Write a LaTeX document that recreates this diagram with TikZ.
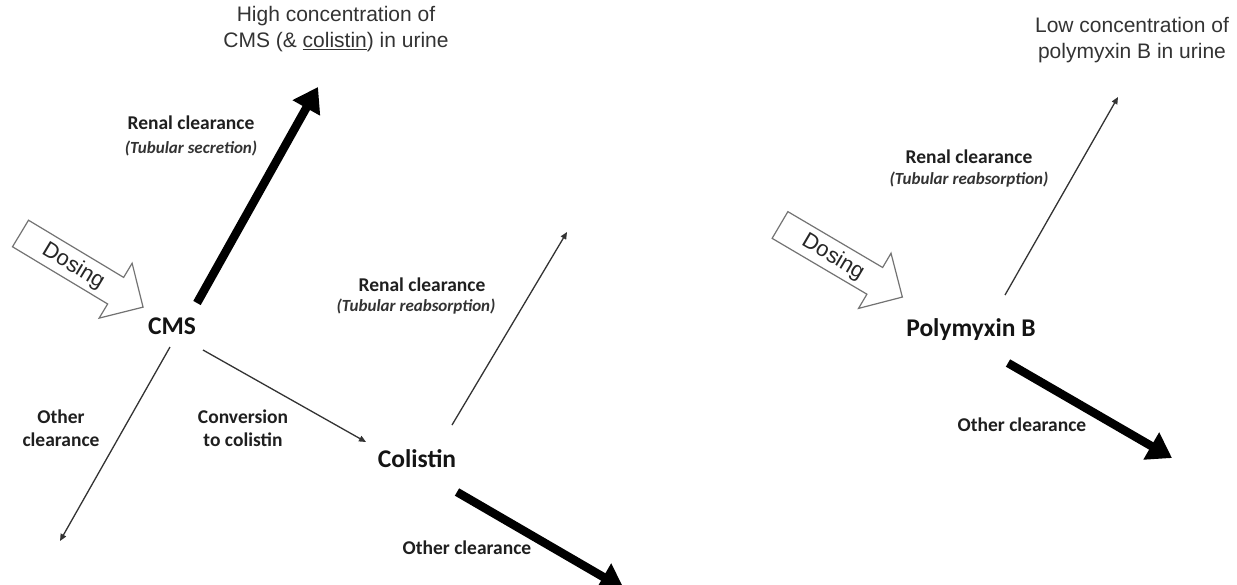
\documentclass[tikz,border=0pt]{standalone}
\usepackage{fontspec}
\setmainfont{Carlito}
\newfontfamily\arialf{Liberation Sans}
\usetikzlibrary{arrows.meta}
\tikzset{
  lbl/.style={font=\fontsize{19.5}{23}\selectfont\bfseries, text=black!88, inner sep=0pt, align=center},
  sublbl/.style={font=\fontsize{17}{20}\selectfont\bfseries\itshape, text=black!80, inner sep=0pt},
  drug/.style={font=\fontsize{25.5}{30}\selectfont\bfseries, text=black!92, inner sep=0pt},
  toptxt/.style={font=\arialf\fontsize{21}{26}\selectfont, text=black!80, inner sep=0pt, align=center},
  thinarr/.style={draw=black!80, line width=1.3pt, -{Triangle[length=7pt,width=6pt]}},
  thickarr/.style={draw=black, line width=8.5pt, -{Triangle[length=24pt,width=30pt]}},
  dosebox/.style={draw=black!55, line width=1.2pt, fill=white},
  dosetxt/.style={font=\arialf\fontsize{22}{26}\selectfont, text=black!85, inner sep=0pt},
}
\begin{document}
\begin{tikzpicture}[x=1pt,y=-1pt]
\clip (0,0) rectangle (1237,584);
\fill[white] (0,0) rectangle (1237,584);

% ---------- top texts
\node[toptxt] (high) at (336,29) {High concentration of\\CMS (\& \underline{colistin}) in urine};
\node[toptxt] (low) at (1132,40) {Low concentration of\\polymyxin B in urine};

% ---------- dosing arrows
\begin{scope}[shift={(20.5,233.5)}, rotate=-31]
  \draw[dosebox] (0,-15.5) -- (111,-15.5) -- (111,-32) -- (143,0) -- (111,32) -- (111,15.5) -- (0,15.5) -- cycle;
  \node[dosetxt, rotate=-31] (dose1) at (62,1) {Dosing};
\end{scope}
\begin{scope}[shift={(780,225)}, rotate=-30.5]
  \draw[dosebox] (0,-15.5) -- (110,-15.5) -- (110,-32) -- (142,0) -- (110,32) -- (110,15.5) -- (0,15.5) -- cycle;
  \node[dosetxt, rotate=-30.5] (dose2) at (62,1) {Dosing};
\end{scope}

% ---------- left: CMS / colistin
\node[drug] (cms) at (172,326) {CMS};
\node[drug] (colistin) at (417,459) {Colistin};

\node[lbl] (renal1) at (191,123) {Renal clearance};
\node[sublbl] (sub1) at (191,148) {(Tubular secretion)};
\node[lbl] (other1) at (61,428.5) {Other\\clearance};
\node[lbl] (conv) at (243,428.5) {Conversion\\to colistin};
\node[lbl] (renal2) at (422,285) {Renal clearance};
\node[sublbl] (sub2) at (416,307) {(Tubular reabsorption)};
\node[lbl] (other2) at (467,548) {Other clearance};

\coordinate (c1s) at (197,303);  \coordinate (c1e) at (318,87);
\coordinate (c2s) at (203,350);  \coordinate (c2e) at (366,442);
\coordinate (c3s) at (170,347);  \coordinate (c3e) at (60,541);
\coordinate (c4s) at (452,425);  \coordinate (c4e) at (567,232);
\coordinate (c5s) at (457,492);  \coordinate (c5e) at (624,589);

\draw[thickarr] (c1s) -- (c1e);
\draw[thinarr] (c2s) -- (c2e);
\draw[thinarr] (c3s) -- (c3e);
\draw[thinarr] (c4s) -- (c4e);
\draw[thickarr] (c5s) -- (c5e);

% ---------- right: polymyxin B
\node[drug] (pmb) at (971,330) {Polymyxin B};
\node[lbl] (renal3) at (969,157) {Renal clearance};
\node[sublbl] (sub3) at (969,180) {(Tubular reabsorption)};
\node[lbl] (other3) at (1022,425) {Other clearance};

\coordinate (p1s) at (1005,295);  \coordinate (p1e) at (1118,97);
\coordinate (p2s) at (1008,363);  \coordinate (p2e) at (1172,458);
\draw[thinarr] (p1s) -- (p1e);
\draw[thickarr] (p2s) -- (p2e);
\end{tikzpicture}
\end{document}
